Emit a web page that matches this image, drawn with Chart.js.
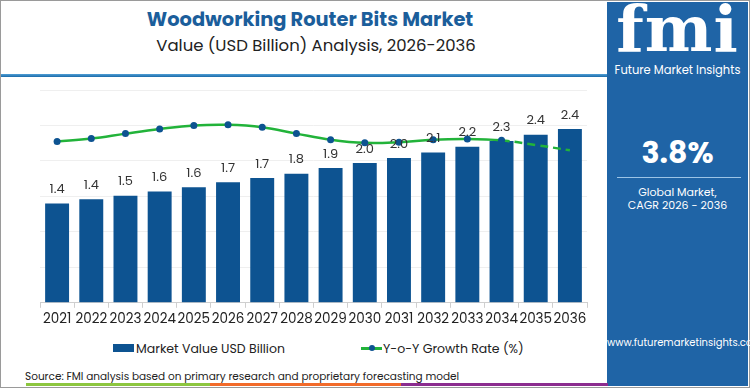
<!DOCTYPE html>
<html>
<head>
<meta charset="utf-8">
<script src="https://cdn.jsdelivr.net/npm/chart.js@4.4.1/dist/chart.umd.min.js"></script>
<style>
  body { margin: 0; width: 750px; height: 388px; background: #fff; font-family: Poppins, "Noto Sans", sans-serif; overflow: hidden; }
  .frame { position: absolute; left: 0; top: 0; width: 748px; height: 386px; border: 1px solid #9a9a9a; }
  .title { position: absolute; left: 0; width: 620px; top: 5px; text-align: center; font-weight: 700; font-size: 19.4px; color: #1b5e9b; }
  .subtitle { position: absolute; left: 6px; width: 620px; top: 33px; text-align: center; font-size: 16.5px; color: #222; }
  .rule { position: absolute; left: 1px; top: 74px; width: 606px; height: 3px; background: linear-gradient(#4f9fd6, #1b6aa8); }
  .side { position: absolute; left: 607px; top: 2px; width: 141px; height: 384px; background: #1f64a6; color: #fff; text-align: center; }
  .logo { position: absolute; left: 0; width: 141px; top: -8px; font-size: 64px; font-weight: 700; font-family: "DejaVu Serif", serif; letter-spacing: 1px; color: #fff; line-height: 70px; }
  .brand { position: absolute; left: 0; width: 141px; top: 60px; font-size: 11.5px; }
  .cagr { position: absolute; left: 0; width: 141px; top: 128px; font-size: 30px; font-weight: 700; }
  .cline { position: absolute; left: 10px; width: 124px; top: 175px; height: 1px; background: #9cc4e6; }
  .cagrtxt { position: absolute; left: 0; width: 141px; top: 184px; font-size: 11px; line-height: 13px; }
  .url { position: absolute; left: 0; width: 141px; top: 333px; font-size: 10px; }
  #wrap { position: absolute; left: 0; top: 80px; width: 600px; height: 252px; }
  .legend { position: absolute; top: 340px; font-size: 12.5px; color: #222; white-space: nowrap; }
  .source { position: absolute; left: 25px; top: 369px; font-size: 10.5px; color: #222; white-space: nowrap; }
  .bar3 { position: absolute; top: 383px; height: 3px; }
</style>
</head>
<body>
<div class="frame"></div>
<div class="title">Woodworking Router Bits Market</div>
<div class="subtitle">Value (USD Billion) Analysis, 2026-2036</div>
<div class="rule"></div>
<div class="side">
  <div class="logo">fmi</div>
  <div class="brand">Future Market Insights</div>
  <div class="cagr">3.8%</div>
  <div class="cline"></div>
  <div class="cagrtxt">Global Market,<br>CAGR 2026 - 2036</div>
  <div class="url">www.futuremarketinsights.com</div>
</div>
<div id="wrap"><canvas id="chart"></canvas></div>
<div class="legend" style="left:113px;"><span style="display:inline-block;width:21px;height:8px;background:#0d5391;vertical-align:middle;margin-right:2px;margin-top:-3px;"></span>Market Value USD Billion</div>
<div class="legend" style="left:361px;"><span style="display:inline-block;position:relative;width:21px;height:8px;vertical-align:middle;margin-right:1px;margin-top:-3px;"><span style="position:absolute;left:0;top:3px;width:21px;height:2.5px;background:#22b33a;"></span><span style="position:absolute;left:8px;top:1px;width:6px;height:6px;border-radius:3px;background:#0d5391;"></span></span>Y-o-Y Growth Rate (%)</div>
<div class="source">Source: FMI analysis based on primary research and proprietary forecasting model</div>
<div class="bar3" style="left:26px;width:184px;background:#8cc63f;"></div>
<div class="bar3" style="left:210px;width:191px;background:#f26b2a;"></div>
<div class="bar3" style="left:401px;width:207px;background:#8b2c8f;"></div>
<script>
const years = ['2021','2022','2023','2024','2025','2026','2027','2028','2029','2030','2031','2032','2033','2034','2035','2036'];
const marketValue = [1.40, 1.46, 1.51, 1.57, 1.63, 1.70, 1.76, 1.82, 1.90, 1.97, 2.04, 2.12, 2.20, 2.28, 2.37, 2.45];
const valueLabels = ['1.4','1.4','1.5','1.6','1.6','1.7','1.7','1.8','1.9','2.0','2.0','2.1','2.2','2.3','2.4','2.4'];
const growthRate = [4.55, 4.63, 4.77, 4.90, 5.00, 5.02, 4.95, 4.77, 4.60, 4.51, 4.53, 4.60, 4.62, 4.58, 4.45, 4.30];
const forecastFrom = 13;

const barLabels = {
  id: 'barLabels',
  afterDatasetsDraw(chart) {
    const { ctx } = chart;
    const meta = chart.getDatasetMeta(1);
    ctx.save();
    ctx.font = '13px Poppins, "Noto Sans", sans-serif';
    ctx.fillStyle = '#333';
    ctx.textAlign = 'center';
    ctx.textBaseline = 'bottom';
    meta.data.forEach((bar, i) => ctx.fillText(valueLabels[i], bar.x, bar.y - 7));
    ctx.restore();
  }
};

new Chart(document.getElementById('chart'), {
  data: {
    labels: years,
    datasets: [
      {
        type: 'line',
        label: 'Y-o-Y Growth Rate (%)',
        data: growthRate,
        yAxisID: 'y1',
        borderColor: '#22b33a',
        borderWidth: 2.5,
        tension: 0.4,
        pointRadius: growthRate.map((v, i) => i > forecastFrom ? 0 : 3.5),
        pointBackgroundColor: '#0d5391',
        pointBorderWidth: 0,
        segment: { borderDash: c => c.p0DataIndex >= forecastFrom ? [8, 5] : undefined },
        order: 0
      },
      {
        type: 'bar',
        label: 'Market Value USD Billion',
        data: marketValue,
        yAxisID: 'y',
        backgroundColor: '#0d5391',
        barPercentage: 0.7,
        categoryPercentage: 1,
        order: 1
      }
    ]
  },
  options: {
    responsive: true,
    maintainAspectRatio: false,
    animation: false,
    layout: { padding: { left: 40, right: 13, top: 10, bottom: 0 } },
    plugins: { legend: { display: false }, tooltip: { enabled: false } },
    scales: {
      x: {
        grid: { display: true, drawOnChartArea: false, tickLength: 5, color: '#cfcfcf' },
        border: { color: '#cfcfcf' },
        ticks: { color: '#222', font: { size: 13.5, family: 'Poppins, "Noto Sans", sans-serif' }, padding: 4, maxRotation: 0, autoSkip: false }
      },
      y: {
        min: 0, max: 3,
        ticks: { display: false, stepSize: 0.5 },
        grid: { color: '#efefef', drawTicks: false },
        border: { display: false }
      },
      y1: {
        min: 0, max: 6,
        display: false
      }
    }
  },
  plugins: [barLabels]
});
</script>
</body>
</html>
